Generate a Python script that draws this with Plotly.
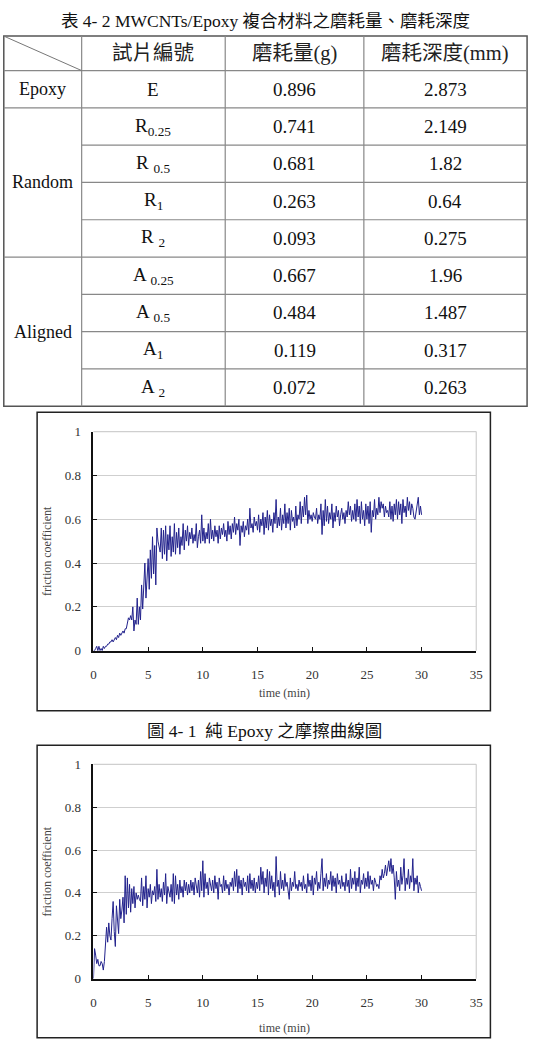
import plotly.graph_objects as go

# ---------------- data ----------------
table_title = "表 4- 2 MWCNTs/Epoxy 複合材料之磨耗量、磨耗深度"
header = ["試片編號", "磨耗量(g)", "磨耗深度(mm)"]
groups = ["Epoxy", "Random", "Aligned"]
group_sizes = [1, 4, 4]
specimens = ["E", "R<sub>0.25</sub>", "R <sub>0.5</sub>", "R<sub>1</sub>", "R <sub>2</sub>",
             "A <sub>0.25</sub>", "A <sub>0.5</sub>", "A<sub>1</sub>", "A <sub>2</sub>"]
wear_mass = ["0.896", "0.741", "0.681", "0.263", "0.093", "0.667", "0.484", "0.119", "0.072"]
wear_depth = ["2.873", "2.149", "1.82", "0.64", "0.275", "1.96", "1.487", "0.317", "0.263"]

caption1 = "圖 4- 1  純 Epoxy 之摩擦曲線圖"
x_title = "time (min)"
y_title = "friction coefficient"
x_ticks = [0, 5, 10, 15, 20, 25, 30, 35]
y_ticks = [0, 0.2, 0.4, 0.6, 0.8, 1]

T0 = 0.0      # first sample time (min)
DT = 0.1      # sampling interval (min)

mu_chart1 = [
    0.00, 0.00, 0.01, 0.02, 0.00, 0.02, 0.00, 0.01, 0.00, 0.02,
    0.01, 0.02, 0.02, 0.03, 0.03, 0.04, 0.04, 0.05, 0.04, 0.05,
    0.06, 0.05, 0.07, 0.06, 0.08, 0.07, 0.08, 0.09, 0.08, 0.10,
    0.10, 0.12, 0.15, 0.14, 0.16, 0.14, 0.20, 0.09, 0.14, 0.12,
    0.24, 0.12, 0.20, 0.14, 0.30, 0.19, 0.28, 0.40, 0.24, 0.36,
    0.42, 0.28, 0.46, 0.33, 0.52, 0.35, 0.48, 0.30, 0.56, 0.50,
    0.47, 0.45, 0.56, 0.42, 0.55, 0.44, 0.57, 0.41, 0.53, 0.46,
    0.57, 0.43, 0.52, 0.45, 0.58, 0.44, 0.54, 0.47, 0.56, 0.44,
    0.52, 0.48, 0.58, 0.46, 0.55, 0.50, 0.57, 0.48, 0.54, 0.51,
    0.56, 0.49, 0.53, 0.50, 0.58, 0.47, 0.52, 0.55, 0.49, 0.62,
    0.50, 0.56, 0.49, 0.54, 0.51, 0.58, 0.49, 0.60, 0.51, 0.55,
    0.50, 0.57, 0.52, 0.55, 0.49, 0.57, 0.51, 0.56, 0.53, 0.58,
    0.52, 0.55, 0.50, 0.59, 0.53, 0.57, 0.51, 0.58, 0.54, 0.61,
    0.53, 0.58, 0.55, 0.60, 0.48, 0.57, 0.54, 0.59, 0.52, 0.57,
    0.55, 0.60, 0.53, 0.65, 0.56, 0.58, 0.54, 0.61, 0.57, 0.59,
    0.55, 0.62, 0.54, 0.60, 0.57, 0.63, 0.53, 0.61, 0.56, 0.64,
    0.55, 0.62, 0.57, 0.60, 0.54, 0.63, 0.58, 0.69, 0.56, 0.61,
    0.57, 0.65, 0.55, 0.62, 0.58, 0.67, 0.56, 0.63, 0.58, 0.65,
    0.55, 0.64, 0.59, 0.61, 0.56, 0.66, 0.57, 0.62, 0.60, 0.68,
    0.58, 0.66, 0.61, 0.70, 0.62, 0.71, 0.58, 0.64, 0.60, 0.62,
    0.59, 0.63, 0.61, 0.60, 0.65, 0.58, 0.62, 0.60, 0.67, 0.53,
    0.64, 0.57, 0.69, 0.59, 0.66, 0.58, 0.63, 0.60, 0.67, 0.56,
    0.63, 0.59, 0.66, 0.61, 0.64, 0.57, 0.62, 0.65, 0.60, 0.63,
    0.58, 0.64, 0.61, 0.68, 0.62, 0.66, 0.59, 0.64, 0.60, 0.67,
    0.59, 0.69, 0.61, 0.66, 0.58, 0.68, 0.60, 0.64, 0.57, 0.67,
    0.60, 0.66, 0.58, 0.68, 0.54, 0.64, 0.61, 0.69, 0.60, 0.65,
    0.62, 0.70, 0.63, 0.68, 0.65, 0.67, 0.61, 0.66, 0.63, 0.64,
    0.61, 0.68, 0.60, 0.66, 0.59, 0.67, 0.62, 0.69, 0.60, 0.68,
    0.62, 0.67, 0.58, 0.69, 0.63, 0.66, 0.61, 0.70, 0.64, 0.68,
    0.62, 0.67, 0.65, 0.61, 0.60, 0.63, 0.65, 0.70, 0.62, 0.66,
    0.62,
]

mu_chart2 = [
    0.00, 0.14, 0.11, 0.07, 0.09, 0.06, 0.06, 0.08, 0.07, 0.04,
    0.08, 0.16, 0.24, 0.17, 0.26, 0.20, 0.18, 0.28, 0.36, 0.22,
    0.15, 0.34, 0.25, 0.21, 0.37, 0.28, 0.32, 0.38, 0.26, 0.48,
    0.30, 0.47, 0.33, 0.44, 0.31, 0.42, 0.35, 0.43, 0.33, 0.40,
    0.37, 0.39, 0.37, 0.36, 0.47, 0.34, 0.43, 0.37, 0.48, 0.33,
    0.42, 0.38, 0.44, 0.35, 0.41, 0.39, 0.43, 0.36, 0.51, 0.37,
    0.44, 0.38, 0.42, 0.36, 0.45, 0.39, 0.49, 0.35, 0.43, 0.40,
    0.38, 0.44, 0.36, 0.49, 0.35, 0.48, 0.39, 0.44, 0.37, 0.46,
    0.40, 0.43, 0.38, 0.46, 0.41, 0.45, 0.39, 0.44, 0.40, 0.46,
    0.41, 0.45, 0.39, 0.47, 0.42, 0.40, 0.46, 0.38, 0.50, 0.41,
    0.55, 0.38, 0.49, 0.42, 0.45, 0.39, 0.47, 0.43, 0.41, 0.46,
    0.40, 0.48, 0.42, 0.45, 0.37, 0.47, 0.43, 0.44, 0.40, 0.48,
    0.41, 0.46, 0.42, 0.44, 0.39, 0.45, 0.43, 0.47, 0.41, 0.50,
    0.43, 0.51, 0.40, 0.48, 0.42, 0.46, 0.39, 0.47, 0.43, 0.45,
    0.41, 0.48, 0.40, 0.49, 0.42, 0.46, 0.41, 0.47, 0.40, 0.45,
    0.42, 0.48, 0.41, 0.52, 0.44, 0.50, 0.40, 0.47, 0.43, 0.51,
    0.39, 0.50, 0.42, 0.48, 0.41, 0.45, 0.38, 0.57, 0.43, 0.46,
    0.39, 0.50, 0.42, 0.46, 0.41, 0.49, 0.43, 0.45, 0.40, 0.37,
    0.47, 0.41, 0.45, 0.43, 0.50, 0.42, 0.44, 0.41, 0.46, 0.43,
    0.45, 0.41, 0.48, 0.42, 0.44, 0.40, 0.49, 0.43, 0.46, 0.41,
    0.48, 0.39, 0.47, 0.44, 0.50, 0.41, 0.45, 0.42, 0.49, 0.56,
    0.41, 0.47, 0.43, 0.49, 0.42, 0.46, 0.44, 0.50, 0.41, 0.48,
    0.43, 0.47, 0.40, 0.49, 0.44, 0.46, 0.42, 0.48, 0.43, 0.45,
    0.41, 0.49, 0.43, 0.46, 0.40, 0.51, 0.42, 0.47, 0.44, 0.50,
    0.41, 0.47, 0.43, 0.52, 0.40, 0.46, 0.44, 0.49, 0.42, 0.47,
    0.43, 0.50, 0.42, 0.48, 0.44, 0.46, 0.41, 0.47, 0.45, 0.43,
    0.44, 0.42, 0.48, 0.46, 0.51, 0.47, 0.49, 0.53, 0.48, 0.52,
    0.55, 0.50, 0.56, 0.49, 0.53, 0.47, 0.37, 0.50, 0.43, 0.46,
    0.41, 0.52, 0.44, 0.48, 0.56, 0.41, 0.47, 0.44, 0.51, 0.42,
    0.48, 0.45, 0.56, 0.41, 0.47, 0.44, 0.48, 0.40, 0.45, 0.43,
    0.41,
]

# ---------------- layout helpers ----------------
W, H = 538, 1051
SERIF = "Liberation Serif, Times New Roman, Noto Sans CJK TC, serif"
LINE_COLOR = "#22228c"
GRID = "#cfcfcf"


def fx(x):
    return x / W


def fy(y):
    return 1 - y / H


fig = go.Figure()
shapes = []
annotations = []

# ---------------- table ----------------
col_x = [0.8, 80, 226, 367, 533]
header_top, header_bot = 29.5, 64.5
row_h = (405 - header_bot) / len(specimens)
row_y = [header_bot + i * row_h for i in range(len(specimens) + 1)]

annotations.append(dict(x=fx(267), y=fy(14), xref="paper", yref="paper", text=table_title,
                        showarrow=False, font=dict(family=SERIF, size=17.5, color="#111"),
                        xanchor="center", yanchor="middle"))

# outer border
shapes.append(dict(type="rect", xref="paper", yref="paper", x0=fx(col_x[0]), x1=fx(col_x[-1]),
                   y0=fy(header_top), y1=fy(row_y[-1]), line=dict(color="#555", width=1.5)))
# vertical lines
for cx in col_x[1:-1]:
    shapes.append(dict(type="line", xref="paper", yref="paper", x0=fx(cx), x1=fx(cx),
                       y0=fy(header_top), y1=fy(row_y[-1]), line=dict(color="#888", width=1.2)))
# header bottom
shapes.append(dict(type="line", xref="paper", yref="paper", x0=fx(col_x[0]), x1=fx(col_x[-1]),
                   y0=fy(header_bot), y1=fy(header_bot), line=dict(color="#888", width=1.2)))
# diagonal in header corner
shapes.append(dict(type="line", xref="paper", yref="paper", x0=fx(col_x[0]), x1=fx(col_x[1]),
                   y0=fy(header_top), y1=fy(header_bot), line=dict(color="#777", width=1)))
# row lines
group_starts = [0]
for s in group_sizes[:-1]:
    group_starts.append(group_starts[-1] + s)
for i in range(1, len(specimens)):
    x_start = col_x[0] if i in group_starts else col_x[1]
    shapes.append(dict(type="line", xref="paper", yref="paper", x0=fx(x_start), x1=fx(col_x[-1]),
                       y0=fy(row_y[i]), y1=fy(row_y[i]), line=dict(color="#888", width=1.2)))

# header text
for j, h in enumerate(header):
    cx = (col_x[j + 1] + col_x[j + 2]) / 2
    annotations.append(dict(x=fx(cx), y=fy((header_top + header_bot) / 2), xref="paper", yref="paper",
                            text=h, showarrow=False, font=dict(family=SERIF, size=20.5, color="#222"),
                            xanchor="center", yanchor="middle"))
# group labels
for g, start, size in zip(groups, group_starts, group_sizes):
    cy = (row_y[start] + row_y[start + size]) / 2
    annotations.append(dict(x=fx((col_x[0] + col_x[1]) / 2), y=fy(cy), xref="paper", yref="paper",
                            text=g, showarrow=False, font=dict(family=SERIF, size=18, color="#111"),
                            xanchor="center", yanchor="middle"))
# body cells
for i, (sp, m, d) in enumerate(zip(specimens, wear_mass, wear_depth)):
    cy = (row_y[i] + row_y[i + 1]) / 2
    for j, txt in enumerate([sp, m, d]):
        cx = (col_x[j + 1] + col_x[j + 2]) / 2
        annotations.append(dict(x=fx(cx), y=fy(cy), xref="paper", yref="paper", text=txt,
                                showarrow=False, font=dict(family=SERIF, size=19, color="#111"),
                                xanchor="center", yanchor="middle"))

# ---------------- charts ----------------
charts = [
    dict(series=mu_chart1, xa="x", ya="y", frame=(34.7, 411, 495.7, 714),
         plot=(92, 430.7, 481.3, 653), xtitle_y=695.5, ytitle_y=551.7),
    dict(series=mu_chart2, xa="x2", ya="y2", frame=(34.7, 749, 495.7, 1045.7),
         plot=(92, 768.3, 481.3, 985.7), xtitle_y=1035.5, ytitle_y=876.7),
]

axis_common = dict(showgrid=False, zeroline=False, showline=True, linecolor="#111", linewidth=1.5,
                   ticks="inside", ticklen=4, tickwidth=1, tickcolor="#111",
                   tickfont=dict(family=SERIF, size=13, color="#333"), fixedrange=True)

for k, c in enumerate(charts):
    fig.add_trace(go.Scatter(y=c["series"], x0=T0, dx=DT, mode="lines",
                             line=dict(color=LINE_COLOR, width=1.0),
                             xaxis=c["xa"], yaxis=c["ya"], showlegend=False, hoverinfo="skip"))
    px0, py0, px1, py1 = c["plot"]
    xkey = "xaxis" if k == 0 else "xaxis2"
    ykey = "yaxis" if k == 0 else "yaxis2"
    fig.layout[xkey] = dict(axis_common, domain=[fx(px0), fx(px1)], range=[0, 35],
                            tickvals=x_ticks, anchor=c["ya"], ticklabelstandoff=11)
    fig.layout[ykey] = dict(axis_common, domain=[fy(py1), fy(py0)], range=[0, 1],
                            tickvals=y_ticks, anchor=c["xa"], showgrid=True, gridcolor=GRID,
                            gridwidth=1, ticklabelstandoff=8)
    xd = c["xa"] + " domain"
    yd = c["ya"] + " domain"
    # gray top and right borders of the plot area
    shapes.append(dict(type="line", xref=xd, yref=yd, x0=0, x1=1, y0=1, y1=1,
                       line=dict(color=GRID, width=1.2), layer="below"))
    shapes.append(dict(type="line", xref=xd, yref=yd, x0=1, x1=1, y0=0, y1=1,
                       line=dict(color=GRID, width=1.2), layer="below"))
    # outer chart frame
    f0, g0, f1, g1 = c["frame"]
    shapes.append(dict(type="rect", xref="paper", yref="paper", x0=fx(f0), x1=fx(f1),
                       y0=fy(g1), y1=fy(g0), line=dict(color="#222", width=1.5)))
    # axis titles
    annotations.append(dict(x=fx((px0 + px1) / 2 - 0.5), y=fy(c["xtitle_y"]), xref="paper", yref="paper",
                            text=x_title, showarrow=False,
                            font=dict(family=SERIF, size=12, color="#444"),
                            xanchor="center", yanchor="middle"))
    annotations.append(dict(x=fx(45), y=fy(c["ytitle_y"]), xref="paper", yref="paper",
                            text=y_title, showarrow=False, textangle=-90,
                            font=dict(family=SERIF, size=12, color="#444"),
                            xanchor="center", yanchor="middle"))

annotations.append(dict(x=fx(266), y=fy(734), xref="paper", yref="paper", text=caption1,
                        showarrow=False, font=dict(family=SERIF, size=17.5, color="#111"),
                        xanchor="center", yanchor="middle"))

fig.update_layout(width=W, height=H, margin=dict(l=0, r=0, t=0, b=0),
                  paper_bgcolor="white", plot_bgcolor="white",
                  shapes=shapes, annotations=annotations, showlegend=False)

fig.write_html("out.html", config={"displayModeBar": False})
